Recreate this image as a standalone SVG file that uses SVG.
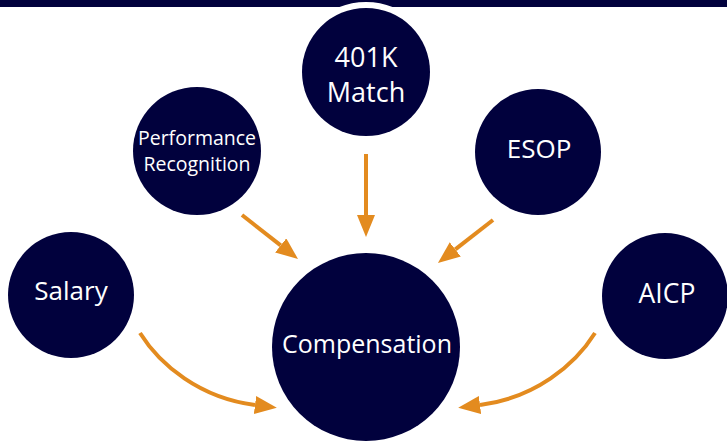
<svg xmlns="http://www.w3.org/2000/svg" width="727" height="445" viewBox="0 0 727 445">
  <style>
    .node { fill: #01013d; }
    .label { fill: #ffffff; font-family: "Open Sans", "Noto Sans", "DejaVu Sans", sans-serif; text-anchor: middle; }
    .link { fill: none; stroke: #e38b1f; stroke-width: 4; }
  </style>
  <defs>
    <marker id="head" markerUnits="userSpaceOnUse" markerWidth="24" markerHeight="20" refX="0" refY="9" orient="auto">
      <path d="M0,0 L22,9 L0,18 z" fill="#e38b1f"/>
    </marker>
  </defs>

  <!-- header bar -->
  <rect x="0" y="0" width="727" height="7" fill="#01013d"/>

  <!-- nodes -->
  <g id="n-401k">
    <circle class="node" cx="366" cy="72" r="64" stroke="#ffffff" stroke-width="12"/>
    <circle class="node" cx="366" cy="72" r="64"/>
    <text class="label" x="366" y="67" font-size="27">401K</text>
    <text class="label" x="366" y="102" font-size="27">Match</text>
  </g>
  <g id="n-performance">
    <circle class="node" cx="197" cy="151" r="64"/>
    <text class="label" x="197" y="145" font-size="19.5">Performance</text>
    <text class="label" x="197" y="171" font-size="19.5">Recognition</text>
  </g>
  <g id="n-esop">
    <circle class="node" cx="538" cy="152" r="63"/>
    <text class="label" x="539" y="158" font-size="26">ESOP</text>
  </g>
  <g id="n-salary">
    <circle class="node" cx="71" cy="295" r="63"/>
    <text class="label" x="71" y="300" font-size="26">Salary</text>
  </g>
  <g id="n-aicp">
    <circle class="node" cx="665" cy="296" r="63"/>
    <text class="label" x="667" y="303" font-size="26.5">AICP</text>
  </g>
  <g id="n-compensation">
    <circle class="node" cx="366" cy="347" r="94"/>
    <text class="label" x="367" y="353" font-size="25">Compensation</text>
  </g>

  <!-- connectors -->
  <g id="connectors">
    <path class="link" d="M366,154 L366,215" marker-end="url(#head)"/>
    <path class="link" d="M242,215 L280.7,245.4" marker-end="url(#head)"/>
    <path class="link" d="M493,220 L455.3,249.4" marker-end="url(#head)"/>
    <path class="link" d="M140,333 C160,365 200,398 255,405" marker-end="url(#head)"/>
    <path class="link" d="M595,333 C575,365 535,398 480,405" marker-end="url(#head)"/>
  </g>
</svg>
